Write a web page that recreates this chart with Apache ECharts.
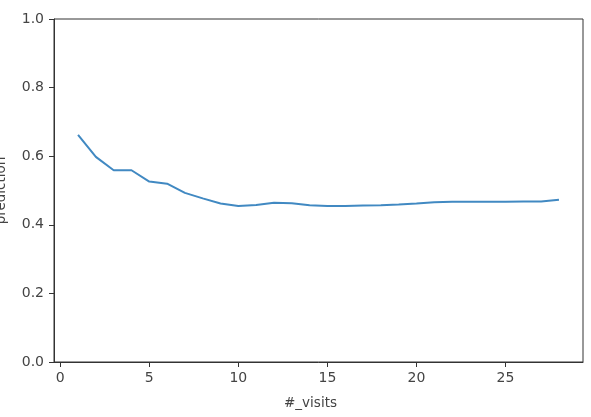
<!DOCTYPE html>
<html>
<head>
<meta charset="utf-8">
<script src="https://cdn.jsdelivr.net/npm/echarts@6/dist/echarts.min.js"></script>
<style>
html,body{margin:0;padding:0;background:#fff;}
#chart{width:591px;height:417px;}
</style>
</head>
<body>
<div id="chart"></div>
<script>
var visits = [1,2,3,4,5,6,7,8,9,10,11,12,13,14,15,16,17,18,19,20,21,22,23,24,25,26,27,28];
var prediction = [0.662,0.598,0.559,0.559,0.526,0.520,0.493,0.477,0.462,0.455,0.458,0.464,0.463,0.457,0.455,0.455,0.456,0.457,0.459,0.462,0.466,0.467,0.467,0.467,0.467,0.468,0.468,0.473];
var xTicks = [0,5,10,15,20,25];
var yTicks = [0,0.2,0.4,0.6,0.8,1.0];

var textColor = '#444';
var axisColor = '#333';
var fontFamily = 'DejaVu Sans';

var chart = echarts.init(document.getElementById('chart'), null, {renderer:'canvas'});
chart.setOption({
  animation:false,
  backgroundColor:'#fff',
  grid:{left:54, top:19, right:8, bottom:55, show:true, borderColor:axisColor, borderWidth:1,
        containLabel:false, outerBoundsMode:'none'},
  xAxis:{
    type:'value', min:-0.35, max:29.35,
    name:'#_visits', nameLocation:'middle', nameGap:34,
    nameTextStyle:{color:textColor, fontSize:13.5, fontFamily:fontFamily, padding:[0,16,0,0]},
    axisLine:{show:true, onZero:false, lineStyle:{color:axisColor, width:1}},
    axisTick:{show:true, inside:false, length:5, customValues:xTicks, lineStyle:{color:axisColor}},
    axisLabel:{show:true, margin:9, customValues:xTicks, color:textColor, fontSize:14, fontFamily:fontFamily},
    splitLine:{show:false}
  },
  yAxis:{
    type:'value', min:0, max:1, interval:0.2,
    name:'prediction', nameLocation:'middle', nameGap:46,
    nameTextStyle:{color:textColor, fontSize:13.5, fontFamily:fontFamily},
    axisLine:{show:true, onZero:false, lineStyle:{color:axisColor, width:1}},
    axisTick:{show:true, inside:false, length:5, lineStyle:{color:axisColor}},
    axisLabel:{show:true, margin:10, color:textColor, fontSize:14, fontFamily:fontFamily,
      formatter:function(v){return v.toFixed(1);}},
    splitLine:{show:false}
  },
  series:[{
    type:'line',
    data:visits.map(function(v,i){return [v, prediction[i]];}),
    showSymbol:false, symbol:'none',
    lineStyle:{color:'#4189c2', width:2},
    itemStyle:{color:'#4189c2'}
  }]
});
</script>
</body>
</html>
